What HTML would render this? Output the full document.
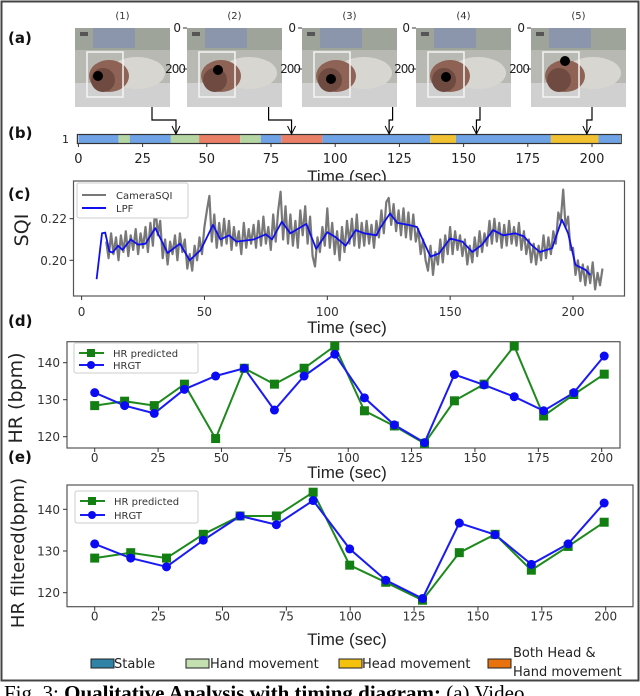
<!DOCTYPE html>
<html><head><meta charset="utf-8"><style>
html,body{margin:0;padding:0;background:#fff;width:640px;height:696px;overflow:hidden}
svg text{font-family:"DejaVu Sans","Liberation Sans",sans-serif}
svg text.ls{font-family:"Liberation Sans",sans-serif}
</style></head><body>
<svg id="fig" width="640" height="696" viewBox="0 0 640 696" xmlns="http://www.w3.org/2000/svg">
<rect x="1.5" y="1.5" width="637" height="679" fill="#fff" stroke="#444" stroke-width="2"/>
<g id="panelA"></g>
<g id="panelB"></g>
<g id="panelC"></g>
<g id="panelD"></g>
<g id="panelE"></g>
<g id="legend"></g>
<text x="4" y="700" font-size="21" fill="#000" style="font-family:'Liberation Serif',serif">Fig. 3: <tspan font-weight="bold">Qualitative Analysis with timing diagram:</tspan> (a) Video</text>
</svg>
<script>
// ---- data ----
const segStarts = [0,15.6,20,36,47,63,71,79,95,137,147,184,202.5];
const segEnds   = [15.6,20,36,47,63,71,79,95,137,147,184,202.5,211];
const segTypes  = ['stable','hand','stable','hand','both','hand','stable','both','stable','head','stable','head','stable'];
const bTicks = [0,25,50,75,100,125,150,175,200];
const frameLabels = ['(1)','(2)','(3)','(4)','(5)'];
const frameTimes = [38,83,121,155,198];

const lpfT = [6.1,8.3,9.6,11.3,12.6,14.9,16.6,20,23,26,30,35,40,44,48.5,53.5,56.5,60,63,70,75,77.5,81.5,85,91.5,95.5,100,103.5,107.5,111.5,115,120,121.5,125.5,128.5,133,136.5,138,142,145.5,150,155,159,163,167.5,171.5,176.5,180,183,186.5,191.5,195.5,198,201,205,207];
const lpfV = [0.1909,0.213,0.2133,0.2043,0.2037,0.207,0.205,0.210,0.2075,0.208,0.2155,0.2035,0.208,0.200,0.205,0.217,0.210,0.212,0.209,0.210,0.2125,0.210,0.2185,0.213,0.2175,0.2055,0.2135,0.211,0.207,0.2145,0.213,0.212,0.2155,0.2225,0.218,0.217,0.216,0.212,0.2018,0.2033,0.2105,0.209,0.204,0.2075,0.2145,0.212,0.213,0.2115,0.2075,0.204,0.2058,0.2195,0.213,0.1978,0.1955,0.193];
const rawStart = 10; // seconds, 1-sec samples, values in 1/1000
const rawV = [209,201,213,203,211,200,212,204,214,202,
212,205,215,203,213,206,216,204,218,207,
227,212,219,201,210,198,209,203,212,200,
213,204,210,196,203,195,207,200,211,203,
216,224,231,209,222,206,218,207,220,208,
219,205,216,207,214,203,218,206,215,208,
217,206,219,207,221,208,216,205,222,209,
224,233,210,226,208,222,207,219,206,224,
212,226,208,221,202,197,211,204,216,207,
225,206,218,203,214,200,216,204,219,208,
220,207,222,206,218,207,219,208,217,206,
219,211,224,213,228,230,217,227,214,224,
212,225,211,223,210,222,209,215,203,210,
200,195,207,193,204,198,210,199,212,203,
216,203,214,205,212,202,210,198,207,199,
211,202,214,204,213,207,219,208,220,209,
218,206,217,207,219,208,216,207,218,205,
214,203,210,199,208,198,207,200,212,201,
211,203,214,208,223,219,234,216,221,205,
206,193,200,190,198,188,197,189,199,186,
194,188,196];
const cXTicks = [0,50,100,150,200];
const cYTicks = [0.20,0.22];

const dT = [0,11.8,23.5,35.4,47.7,59,70.9,82.6,94.7,106.4,118.2,130.1,141.9,153.6,165.5,177.1,189,201];
const dPred = [128.4,129.6,128.4,134.2,119.5,138.5,134.2,138.5,144.5,127,122.9,118.2,129.7,134.2,144.5,125.6,131.4,136.9];
const dGT = [131.9,128.4,126.3,132.8,136.4,138.5,127.2,136.4,142.3,130.5,123.2,118.4,136.8,134,130.8,127,131.9,141.8];
const hrXTicks = [0,25,50,75,100,125,150,175,200];
const hrYTicks = [120,130,140];

const eT = [0,14.1,28.1,42.5,56.9,71.1,85.5,99.8,113.9,128.3,142.7,156.7,170.9,185.3,199.4];
const ePred = [128.3,129.6,128.3,134.0,138.4,138.4,144.1,126.6,122.5,118.2,129.6,134.0,125.4,131.1,136.9];
const eGT = [131.7,128.3,126.2,132.6,138.4,136.3,142.1,130.5,123.0,118.6,136.7,133.9,126.8,131.7,141.5];

const legendLabels = ['Stable','Hand movement','Head movement','Both Head &'];

// ---- helpers ----
const NS='http://www.w3.org/2000/svg';
function mk(parent,tag,attrs,txt){const e=document.createElementNS(NS,tag);for(const k in attrs)e.setAttribute(k,attrs[k]);if(txt!==undefined)e.textContent=txt;parent.appendChild(e);return e;}
const segColor={stable:'#6fa3e6',hand:'#b5d6a3',head:'#f2c132',both:'#ea7f68'};

// ---- panel a ----
const A=document.getElementById('panelA');
const lbA=mk(A,'text',{x:8,y:43,'font-size':15,'font-weight':'bold',fill:'#111'},'(a)');


const frameX=[75,187,302,416,531];
const dotPos=[[98,76],[218,70],[331,79],[446,77],[565,61]];
frameX.forEach((fx,i)=>{
  const g=mk(A,'g',{});
  
  
  const w=95,y0=28,h=79;
  mk(g,'rect',{x:fx,y:y0,width:w,height:h,fill:'#b9b9b4'});
  mk(g,'rect',{x:fx,y:y0,width:w,height:22,fill:'#9ea49a'});
  mk(g,'rect',{x:fx+18,y:y0,width:42,height:20,fill:'#8b96ad'});
  mk(g,'rect',{x:fx,y:y0+55,width:w,height:24,fill:'#cfd0cf'});
  mk(g,'ellipse',{cx:fx+62,cy:y0+45,rx:28,ry:16,fill:'#d8d6d0'});
  mk(g,'ellipse',{cx:fx+34,cy:y0+48,rx:20,ry:16,fill:'#8e6254'});
  mk(g,'ellipse',{cx:fx+28,cy:y0+52,rx:12,ry:12,fill:'#6f4a40'});
  mk(g,'rect',{x:fx+5,y:y0+4,width:8,height:4,fill:'#555'});
  const bx=fx+12;
  mk(g,'rect',{x:bx,y:y0+24,width:36,height:45,fill:'none',stroke:'#f4f4f4','stroke-width':1.5});
  mk(g,'circle',{cx:dotPos[i][0],cy:dotPos[i][1],r:5,fill:'#000'});
  mk(g,'text',{x:fx+w/2,y:19,'font-size':10,'text-anchor':'middle',fill:'#333'},frameLabels[i]);
  if(i>0){
    mk(g,'text',{x:fx-6,y:32,'font-size':12,'text-anchor':'end',fill:'#222'},'0');
    mk(g,'text',{x:fx-2,y:73,'font-size':12,'text-anchor':'end',fill:'#222','letter-spacing':'-1'},'200');
    mk(g,'line',{x1:fx-4,y1:28,x2:fx,y2:28,stroke:'#333'});
    mk(g,'line',{x1:fx-4,y1:69,x2:fx,y2:69,stroke:'#333'});
  }
});

// ---- panel b ----
const B=document.getElementById('panelB');
const xb=t=>78.4+t*2.568;
const lbB=mk(B,'text',{x:8,y:138,'font-size':15,'font-weight':'bold',fill:'#111'},'(b)');


mk(B,'text',{x:62,y:143,'font-size':11,fill:'#222'},'1');
segStarts.forEach((s,i)=>{
  const r=mk(B,'rect',{x:xb(s),y:135,width:xb(segEnds[i])-xb(s),height:8,fill:segColor[segTypes[i]]});
  
  
});
mk(B,'rect',{x:xb(0)-1,y:134.5,width:xb(211)-xb(0)+2,height:9,fill:'none',stroke:'#333','stroke-width':1.2});
bTicks.forEach(t=>{
  mk(B,'line',{x1:xb(t),y1:143,x2:xb(t),y2:147,stroke:'#333'});
  const tx=mk(B,'text',{x:xb(t),y:163,'font-size':13,'text-anchor':'middle',fill:'#222'},String(t));
  
  
});
const bt=mk(B,'text',{x:347,y:182,'font-size':17,'text-anchor':'middle',fill:'#222',class:'ls'},'Time (sec)');


const frameBottomX=[152,268.6,392.6,480,592];
frameTimes.forEach((ft,i)=>{
  const x2=xb(ft);
  const x1=frameBottomX[i];
  const p=(Math.abs(x1-x2)>3)?`M${x1},107 L${x1},120 L${x2},120 L${x2},134`:`M${x2},110 L${x2},134`;
  const pa=mk(B,'path',{d:p,fill:'none',stroke:'#000','stroke-width':1.2});
  
  
  mk(B,'path',{d:`M${x2-4},126 L${x2},134 L${x2+4},126`,fill:'none',stroke:'#000','stroke-width':1});
});

// ---- panel c ----
const C=document.getElementById('panelC');
const xc=t=>81.6+t*2.457;
const yc=v=>260.3-(v-0.20)/0.02*41.6;
const lbC=mk(C,'text',{x:8,y:199,'font-size':15,'font-weight':'bold',fill:'#111'},'(c)');


mk(C,'rect',{x:73.5,y:181,width:551,height:115,fill:'#fff',stroke:'#555','stroke-width':1.2});
let rp='';
rawV.forEach((v,i)=>{rp+=(i?'L':'M')+xc(rawStart+i).toFixed(1)+','+yc(v/1000).toFixed(1);});
const raw=mk(C,'path',{d:rp,fill:'none',stroke:'#787878','stroke-width':2.2,'stroke-linejoin':'round'});


let lp='';
lpfT.forEach((t,i)=>{lp+=(i?'L':'M')+xc(t).toFixed(1)+','+yc(lpfV[i]).toFixed(1);});
const lpf=mk(C,'path',{d:lp,fill:'none',stroke:'#1010ee','stroke-width':1.8,'stroke-linejoin':'round'});


cXTicks.forEach(t=>{
  mk(C,'line',{x1:xc(t),y1:296,x2:xc(t),y2:300,stroke:'#333'});
  const tx=mk(C,'text',{x:xc(t),y:316,'font-size':12,'text-anchor':'middle',fill:'#333'},String(t));
  
  
});
cYTicks.forEach(v=>{
  mk(C,'line',{x1:69.5,y1:yc(v),x2:73.5,y2:yc(v),stroke:'#333'});
  const tx=mk(C,'text',{x:67,y:yc(v)+4.5,'font-size':12,'text-anchor':'end',fill:'#333'},v.toFixed(2));
  
  
});
const sqiT=mk(C,'text',{x:0,y:0,'font-size':19,'text-anchor':'middle',fill:'#222',transform:'translate(28,230) rotate(-90)'},'SQI');


const cl=mk(C,'g',{});


mk(cl,'rect',{x:77,y:183,width:111,height:35,fill:'#fff',stroke:'#ccc',rx:2});
mk(cl,'line',{x1:82,y1:195,x2:106,y2:195,stroke:'#787878','stroke-width':2});
mk(cl,'text',{x:116,y:199,'font-size':10,fill:'#333'},'CameraSQI');
mk(cl,'line',{x1:82,y1:208,x2:106,y2:208,stroke:'#1010ee','stroke-width':2});
mk(cl,'text',{x:116,y:212,'font-size':10,fill:'#333'},'LPF');
const ct=mk(C,'text',{x:347,y:333,'font-size':17,'text-anchor':'middle',fill:'#222',class:'ls'},'Time (sec)');



// ---- HR panels ----
function hrPanel(G,box,x0,pxPerT,yBase,pxPerBpm,ts,pred,gt,yTitle,titleX,titleY,titleSize,lbl,lblY,legBox,timeY,prefix){
  const xf=t=>x0+t*pxPerT, yf=v=>yBase-(v-120)*pxPerBpm;
  const l=mk(G,'text',{x:8,y:lblY,'font-size':15,'font-weight':'bold',fill:'#111'},lbl);
  
  
  mk(G,'rect',{x:box[0],y:box[1],width:box[2]-box[0],height:box[3]-box[1],fill:'#fff',stroke:'#555','stroke-width':1.2});
  hrXTicks.forEach(t=>{
    mk(G,'line',{x1:xf(t),y1:box[3],x2:xf(t),y2:box[3]+4,stroke:'#333'});
    const tx=mk(G,'text',{x:xf(t),y:box[3]+14,'font-size':12,'text-anchor':'middle',fill:'#333'},String(t));
    
    
  });
  hrYTicks.forEach(v=>{
    mk(G,'line',{x1:box[0]-4,y1:yf(v),x2:box[0],y2:yf(v),stroke:'#333'});
    const tx=mk(G,'text',{x:box[0]-7,y:yf(v)+4.5,'font-size':12,'text-anchor':'end',fill:'#333'},String(v));
    
    
  });
  let pp='',gp='';
  ts.forEach((t,i)=>{pp+=(i?'L':'M')+xf(t).toFixed(1)+','+yf(pred[i]).toFixed(1);gp+=(i?'L':'M')+xf(t).toFixed(1)+','+yf(gt[i]).toFixed(1);});
  const pl=mk(G,'path',{d:pp,fill:'none',stroke:'#1e8a1e','stroke-width':2});
  
  
  const gl=mk(G,'path',{d:gp,fill:'none',stroke:'#1a1af5','stroke-width':2});
  
  
  ts.forEach((t,i)=>{
    const s=mk(G,'rect',{x:xf(t)-4.5,y:yf(pred[i])-4.5,width:9,height:9,fill:'#137f13'});
    
    
  });
  ts.forEach((t,i)=>{
    const c=mk(G,'circle',{cx:xf(t),cy:yf(gt[i]),r:4.5,fill:'#0a0af5'});
    
    
  });
  const lg=mk(G,'g',{});
  
  
  mk(lg,'rect',{x:legBox[0],y:legBox[1],width:legBox[2]-legBox[0],height:legBox[3]-legBox[1],fill:'#fff',stroke:'#ccc',rx:2});
  const e1=legBox[1]+10, e2=legBox[3]-8;
  mk(lg,'line',{x1:legBox[0]+5,y1:e1,x2:legBox[0]+30,y2:e1,stroke:'#1e8a1e','stroke-width':2});
  mk(lg,'rect',{x:legBox[0]+13,y:e1-4,width:8,height:8,fill:'#137f13'});
  mk(lg,'text',{x:legBox[0]+39,y:e1+4,'font-size':10,fill:'#333'},'HR predicted');
  mk(lg,'line',{x1:legBox[0]+5,y1:e2,x2:legBox[0]+30,y2:e2,stroke:'#1a1af5','stroke-width':2});
  mk(lg,'circle',{cx:legBox[0]+17,cy:e2,r:4,fill:'#0a0af5'});
  mk(lg,'text',{x:legBox[0]+39,y:e2+4,'font-size':10,fill:'#333'},'HRGT');
  const yt=mk(G,'text',{x:0,y:0,'font-size':titleSize,'text-anchor':'middle',fill:'#222',transform:`translate(${titleX},${titleY}) rotate(-90)`},yTitle);
  
  
  const xt=mk(G,'text',{x:347,y:timeY,'font-size':17,'text-anchor':'middle',fill:'#222',class:'ls'},'Time (sec)');
  
  
}
hrPanel(document.getElementById('panelD'),[67,341.7,620,448],94.7,2.535,436.7,3.7,dT,dPred,dGT,'HR (bpm)',22,398,19,'(d)',326,[74,343,198,373],478,'hr');
hrPanel(document.getElementById('panelE'),[67,485,633,606.7],94.7,2.555,592.7,4.17,eT,ePred,eGT,'HR filtered(bpm)',24,553,18,'(e)',462,[75,491,198,523],645,'hr-filtered');

// ---- bottom legend ----
const L=document.getElementById('legend');
const swX=[91,186,339,488], txX=[114,210,362,513];
const swC=['#2e83a6','#c4dfb0','#f4c20d','#e8730e'];
legendLabels.forEach((lab,i)=>{
  const g=mk(L,'g',{});
  
  
  mk(g,'rect',{x:swX[i],y:659,width:23,height:9,fill:swC[i],stroke:'#222','stroke-width':1});
  if(i<3){mk(g,'text',{x:txX[i],y:668,'font-size':13,fill:'#222'},lab);}
  else{mk(g,'text',{x:txX[i],y:657,'font-size':13,fill:'#222'},lab);mk(g,'text',{x:txX[i],y:676,'font-size':13,fill:'#222'},'Hand movement');}
});
</script>
</body></html>
